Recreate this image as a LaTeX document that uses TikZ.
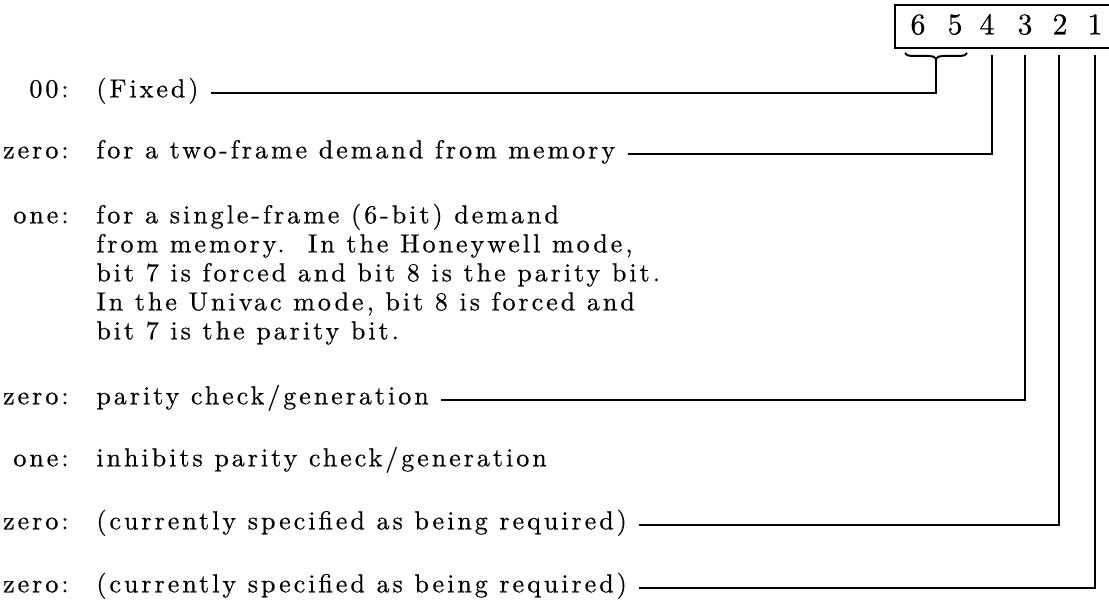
\documentclass[tikz,border=0pt]{standalone}
\usepackage{fontspec}
\newfontfamily\typefont{lmroman10-regular.otf}[LetterSpace=11.5, FakeBold=0.5]
\usetikzlibrary{decorations.pathreplacing}
\tikzset{
  txt/.style={inner sep=0pt, font=\typefont\fontsize{13}{15.6}\selectfont},
  lbl/.style={txt, anchor=mid east},
  body/.style={txt, anchor=mid west},
  digit/.style={txt, anchor=mid, font=\typefont\fontsize{15}{17}\selectfont},
  wire/.style={line width=1pt, shorten >=6pt},
  frame/.style={line width=0.9pt},
}
\begin{document}
\begin{tikzpicture}[x=0.5pt,y=-0.5pt]
\useasboundingbox (0,0) rectangle (1109,603);
% register box
\draw[frame] (1115,5) -- (895,5) -- (895,48) -- (1115,48);
\node[digit] (d6) at (918,30) {6};
\node[digit] (d5) at (955,30) {5};
\node[digit] (d4) at (987,30) {4};
\node[digit] (d3) at (1025,30) {3};
\node[digit] (d2) at (1060,30) {2};
\node[digit] (d1) at (1095,30) {1};
% brace under 6 5
\draw[line width=1pt, decorate, decoration={brace, amplitude=3pt}] (967,53) -- (905,53);
\coordinate (bt) at (936,59);
\coordinate (v4) at (992,55);
\coordinate (v3) at (1025,55);
\coordinate (v2) at (1059,55);
\coordinate (v1) at (1095,55);
% labels
\node[lbl] (l0) at (69,93) {00:};
\node[lbl] (l1) at (69,154) {zero:};
\node[lbl] (l2) at (69,219) {one:};
\node[lbl] (l3) at (69,400) {zero:};
\node[lbl] (l4) at (69,462) {one:};
\node[lbl] (l5) at (69,525) {zero:};
\node[lbl] (l6) at (69,588) {zero:};
% texts
\node[body] (t0) at (96,93) {(Fixed)};
\node[body] (t1) at (96,154) {for a two-frame demand from memory};
\node[body] (p1) at (96,219) {for a single-frame (6-bit) demand};
\node[body] (p2) at (96,248) {from memory.\ \ In the Honeywell mode,};
\node[body] (p3) at (96,277) {bit 7 is forced and bit 8 is the parity bit.};
\node[body] (p4) at (96,306) {In the Univac mode, bit 8 is forced and};
\node[body] (p5) at (96,335) {bit 7 is the parity bit.};
\node[body] (t3) at (96,400) {parity check/generation};
\node[body] (t4) at (96,462) {inhibits parity check/generation};
\node[body] (t5) at (96,525) {(currently specified as being required)};
\node[body] (t6) at (96,588) {(currently specified as being required)};
% connectors
\draw[wire] (bt) |- (t0.mid east);
\draw[wire] (v4) |- (t1.mid east);
\draw[wire] (v3) |- (t3.mid east);
\draw[wire] (v2) |- (t5.mid east);
\draw[wire] (v1) |- (t6.mid east);
\end{tikzpicture}
\end{document}
